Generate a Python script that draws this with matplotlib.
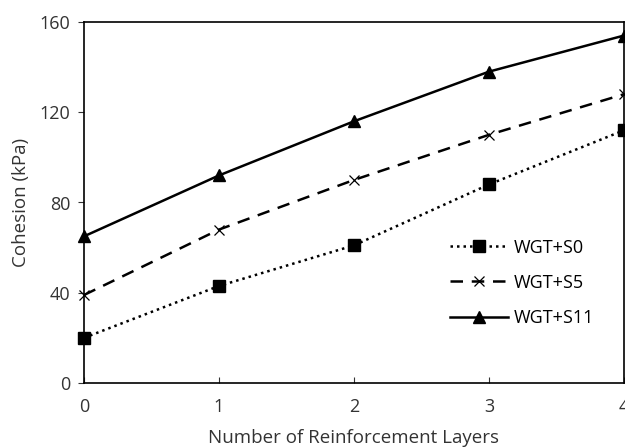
import numpy as np
import matplotlib
matplotlib.use("Agg")
import matplotlib.pyplot as plt

layers = [0, 1, 2, 3, 4]
wgt_s0 = [20, 43, 61, 88, 112]
wgt_s5 = [39, 68, 90, 110, 128]
wgt_s11 = [65, 92, 116, 138, 154]
y_ticks = [0, 40, 80, 120, 160]

plt.rcParams['font.family'] = ['Open Sans', 'DejaVu Sans']

fig = plt.figure(figsize=(6.25, 4.48), dpi=100)
ax = fig.add_axes([84/625, 1 - 383/448, 540/625, 361/448])

ax.plot(layers, wgt_s0, color='black', linestyle=(0, (1, 1.6)), linewidth=1.8,
        marker='s', markersize=8.5, label='WGT+S0', clip_on=False)
ax.plot(layers, wgt_s5, color='black', linestyle=(0, (5, 3.5)), linewidth=1.8,
        marker='x', markersize=7.5, markeredgewidth=0.9, label='WGT+S5', clip_on=False)
ax.plot(layers, wgt_s11, color='black', linestyle='-', linewidth=1.8,
        marker='^', markersize=8.5, label='WGT+S11', clip_on=False)

ax.set_xlim(0, 4)
ax.set_ylim(0, 160)
ax.set_xticks(layers)
ax.set_yticks(y_ticks)
ax.tick_params(axis='both', labelsize=13, colors='#333333', length=4)
ax.tick_params(axis='x', direction='in', pad=11)
ax.tick_params(axis='y', direction='out', pad=6)
for s in ax.spines.values():
    s.set_linewidth(1.2)

ax.set_xlabel('Number of Reinforcement Layers', fontsize=13.5, color='#333333', labelpad=9)
ax.set_ylabel('Cohesion (kPa)', fontsize=13.5, color='#333333', labelpad=7)

ax.legend(loc='upper left', bbox_to_anchor=(0.678, 0.40), frameon=False,
          borderpad=0, borderaxespad=0,
          fontsize=13, handlelength=3.2, labelspacing=0.95, handletextpad=0.35)

fig.savefig('out.png', dpi=100)
